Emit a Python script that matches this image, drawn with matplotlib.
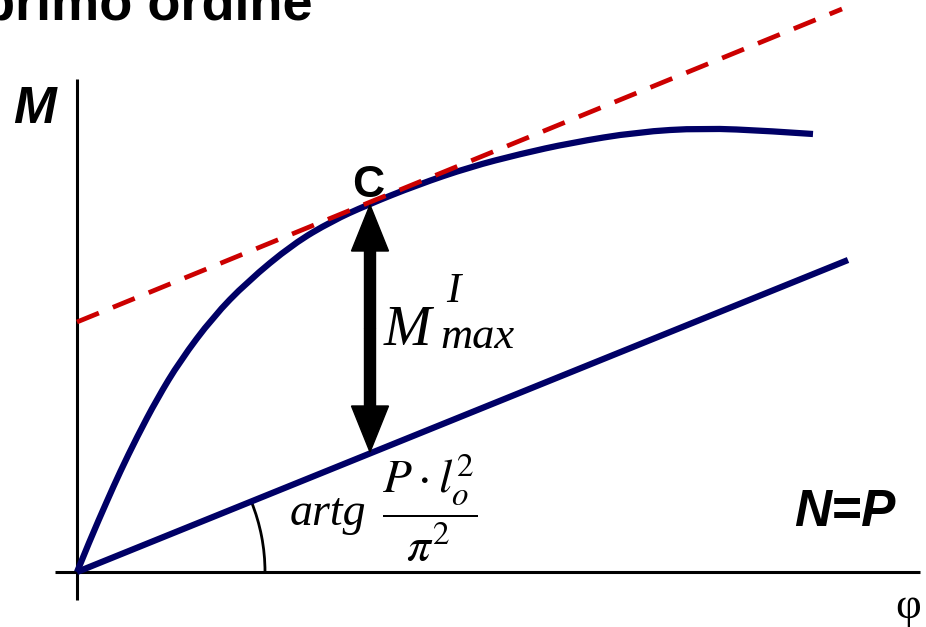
import matplotlib
matplotlib.use("Agg")
import matplotlib.pyplot as plt
from matplotlib.patches import Arc, PathPatch
from matplotlib.path import Path

# ---- data (origin at the axes corner) ----
curve_phi = [0.0, 0.13, 0.30, 0.43, 0.60, 0.80, 1.03, 1.36, 1.70, 2.16, 2.55, 2.90, 3.40, 3.93, 4.43, 4.93, 5.60, 6.26, 6.93, 7.36]
curve_M   = [0.0, 0.32, 0.71, 1.00, 1.35, 1.73, 2.11, 2.55, 2.90, 3.28, 3.51, 3.67, 3.87, 4.05, 4.18, 4.29, 4.40, 4.44, 4.41, 4.38]

line_phi = [0.0, 7.71]        # N = P straight line
line_M   = [0.0, 3.12]

tangent_phi = [0.0, 7.65]     # red dashed tangent through C
tangent_M   = [2.50, 5.63]

arrow_phi = 2.93              # M^I_max arrow
arrow_M = [1.20, 3.67]

angle_radius = 1.88
angle_deg = 22.0

navy = "#000066"
red = "#CC0000"

fig = plt.figure(figsize=(9.26, 6.27), dpi=100)
ax = fig.add_axes([0, 0, 1, 1])
ax.set_xlim(-0.77, 8.49)
ax.set_ylim(-0.55, 5.72)
ax.axis("off")

# axes lines
ax.plot([0, 0], [-0.28, 4.93], color="black", lw=2.2, solid_capstyle="butt")
ax.plot([-0.22, 8.43], [0, 0], color="black", lw=2.2, solid_capstyle="butt")

# red dashed tangent
ax.plot(tangent_phi, tangent_M, color=red, lw=3.4, dashes=(5.0, 3.2), zorder=4)

# smooth navy curve: quadratic Bezier through the read points
pts = list(zip(curve_phi, curve_M))
verts = [pts[0]]
codes = [Path.MOVETO]
for i in range(1, len(pts) - 2):
    mx = 0.5 * (pts[i][0] + pts[i + 1][0])
    my = 0.5 * (pts[i][1] + pts[i + 1][1])
    verts += [pts[i], (mx, my)]
    codes += [Path.CURVE3, Path.CURVE3]
verts += [pts[-2], pts[-1]]
codes += [Path.CURVE3, Path.CURVE3]
ax.add_patch(PathPatch(Path(verts, codes), facecolor="none", edgecolor=navy, lw=4.5,
                       capstyle="butt", joinstyle="round", zorder=3))
ax.plot(line_phi, line_M, color=navy, lw=4.5, solid_capstyle="butt", zorder=3)

# angle arc
ax.add_patch(Arc((0, 0), 2 * angle_radius, 2 * angle_radius, theta1=0, theta2=angle_deg,
                 color="black", lw=2.0))

# double arrow
mid = 0.5 * (arrow_M[0] + arrow_M[1])
for end in arrow_M:
    ax.arrow(arrow_phi, mid, 0, end - mid, width=0.11, head_width=0.37, head_length=0.46,
             length_includes_head=True, color="black", zorder=5)

# texts
sans = "Liberation Sans"
serif = "Liberation Serif"
ax.text(2.91, 3.75, "C", fontsize=32, fontweight="bold", family=sans, ha="center", va="baseline")
ax.text(-0.64, 4.49, "M", fontsize=37, fontweight="bold", style="italic", family=sans, va="baseline")
ax.text(7.17, 0.46, "N=P", fontsize=37, fontweight="bold", style="italic", family=sans, va="baseline")
ax.text(8.31, -0.15, "φ", fontsize=32, family=serif, ha="center", va="top")

# M^I_max
ax.text(3.07, 2.27, "M", fontsize=41, style="italic", family=serif, va="baseline")
ax.text(3.69, 2.70, "I", fontsize=31, style="italic", family=serif, va="baseline")
ax.text(3.63, 2.24, "max", fontsize=32, style="italic", family=serif, va="baseline")

plt.rcParams["mathtext.fontset"] = "stix"
ax.text(2.13, 0.47, "artg", fontsize=33, style="italic", family=serif, va="baseline")
ax.text(3.05, 0.64, r"$\dfrac{P\cdot l_o^2}{\pi^2}$", fontsize=34, va="center")

fig.text(-18 / 926, 1 - 20 / 627, "primo ordine", fontsize=39, fontweight="bold", family=sans,
         va="baseline")

fig.savefig("out.png", dpi=100)
